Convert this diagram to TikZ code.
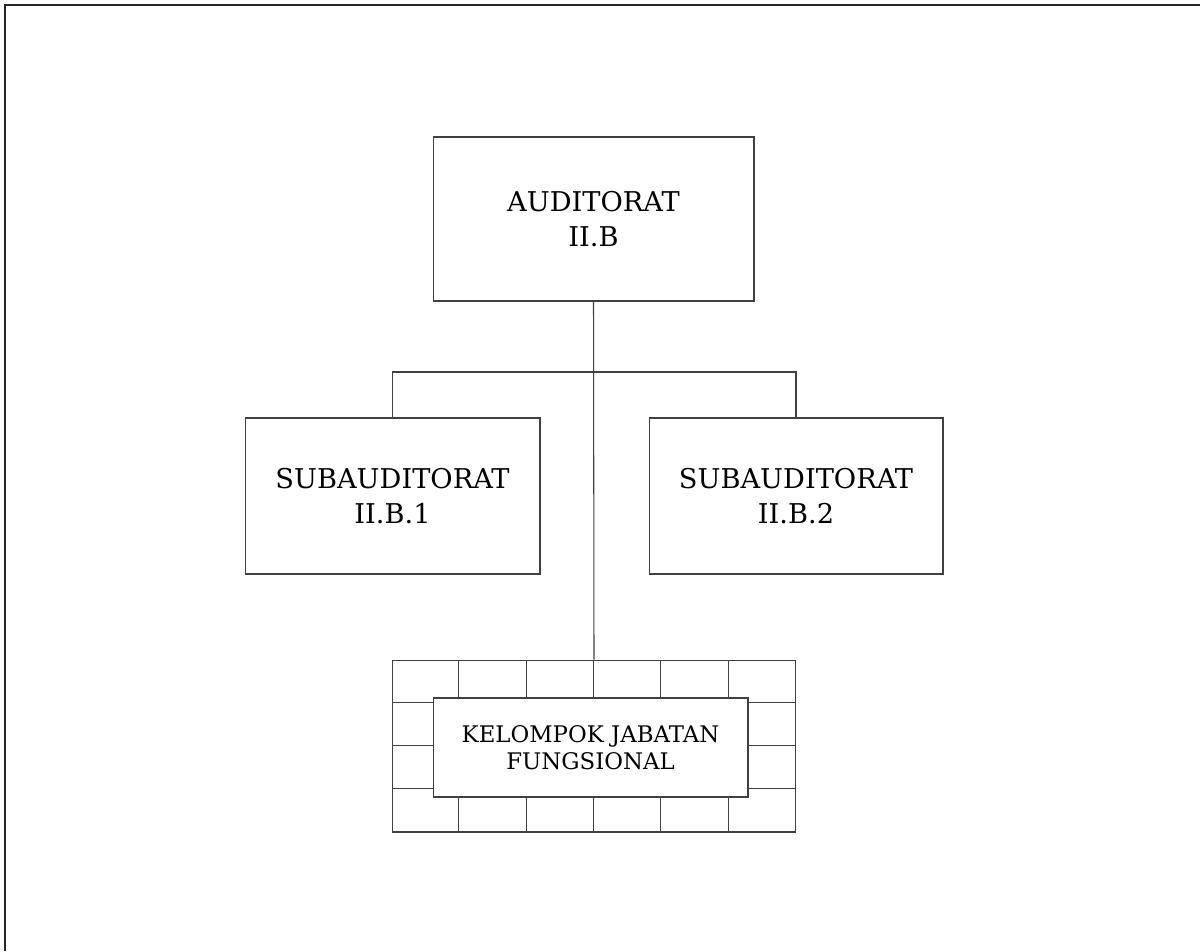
\documentclass[tikz,border=0pt]{standalone}
\usepackage{fontspec}
\setmainfont{DejaVu Serif}
\usetikzlibrary{positioning,calc}

\begin{document}
\begin{tikzpicture}[
    x=0.02cm, y=-0.02cm,
    every node/.style={font=\fontsize{15.5}{19.5}\selectfont},
    unit/.style={rectangle, draw=black!75, line width=0.6pt, fill=white, align=center, inner sep=0pt},
    cell/.style={draw=black!75, line width=0.6pt},
    link/.style={draw=black!75, line width=0.6pt}
]

\useasboundingbox (0,0) rectangle (1200,951);
\draw[line width=1.2pt, black!85] (5,951) -- (5,5) -- (1200,5);

\node[unit, minimum width=6.42cm, minimum height=3.28cm] (auditorat) at (593.5,219) {AUDITORAT\\II.B};
\node[unit, minimum width=5.9cm, minimum height=3.12cm] (sub1) at (392.5,496) {SUBAUDITORAT\\II.B.1};
\node[unit, minimum width=5.88cm, minimum height=3.12cm] (sub2) at (796,496) {SUBAUDITORAT\\II.B.2};

% kelompok fungsional grid
\node[unit, minimum width=8.08cm, minimum height=3.44cm] (grid) at (594,746) {};
\foreach \i in {1,...,5}
    \draw[cell] ($(grid.north west)+(\i*67.33,0)$) -- ($(grid.south west)+(\i*67.33,0)$);
\foreach \j in {1,2,3}
    \draw[cell] ($(grid.north west)+(0,\j*43)$) -- ($(grid.north east)+(0,\j*43)$);
\node[unit, minimum width=6.3cm, minimum height=1.98cm, font=\fontsize{13}{15.3}\selectfont] (jabfung) at (590.5,747.5) {KELOMPOK JABATAN\\FUNGSIONAL};

\coordinate (branch) at (593.5,372);
\draw[link] (auditorat.south) -- (grid.north);
\draw[link] (sub1.north) |- (branch) -| (sub2.north);

\end{tikzpicture}
\end{document}
